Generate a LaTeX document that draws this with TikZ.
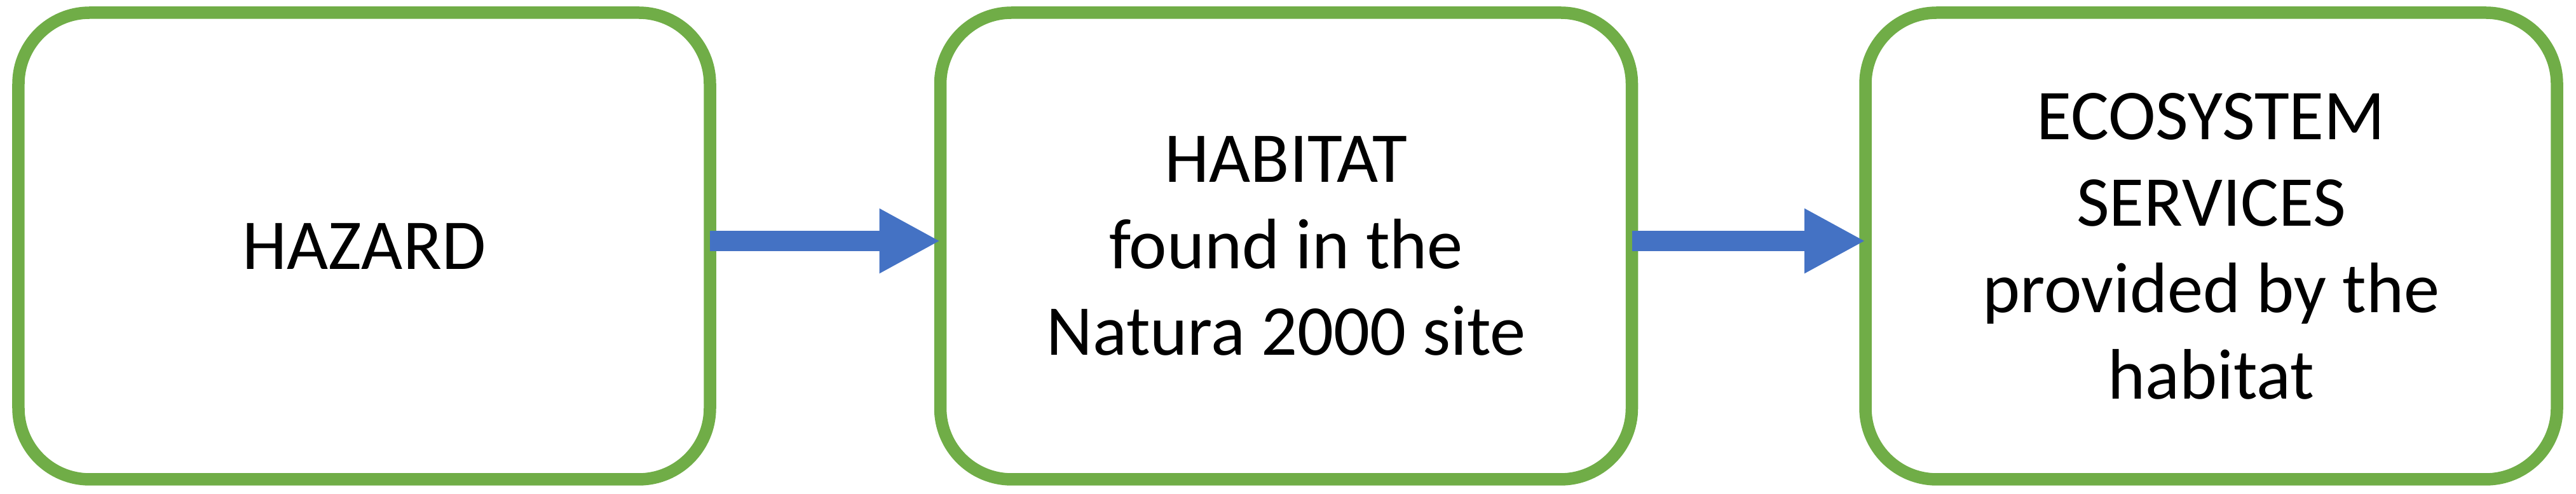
\documentclass[tikz,border=0pt]{standalone}
\usepackage{fontspec}
\setmainfont{Carlito}
\usepackage{tikz}
\usetikzlibrary{arrows.meta,positioning}
\definecolor{boxgreen}{HTML}{70AD47}
\definecolor{arrowblue}{HTML}{4472C4}

\begin{document}
\begin{tikzpicture}[
    stage/.style = {draw = boxgreen, line width = 0.195cm, rounded corners = 1.12cm,
      minimum width = 10.88cm, minimum height = 7.34cm, outer sep = 0pt,
      align = center, font = \fontsize{32pt}{38.7pt}\selectfont},
    flow/.style = {draw = arrowblue, line width = 0.32cm,
      -{Triangle[length = 0.96cm, width = 0.95cm]}}]
  \useasboundingbox (0.0, 0.0) rectangle (40.53, 7.77);
  \node [stage] (hazard) at (5.73, 3.90) {HAZARD};
  \node [stage, right = 3.625cm of hazard] (habitat) {HABITAT\\found in the\\Natura 2000 site};
  \node [stage, right = 3.675cm of habitat] (services) {ECOSYSTEM\\SERVICES\\provided by the\\habitat};
  \draw [flow] ([yshift = 0.08cm] hazard.east) -- ([yshift = 0.08cm] habitat.west);
  \draw [flow] ([yshift = 0.08cm] habitat.east) -- ([yshift = 0.08cm] services.west);
\end{tikzpicture}
\end{document}
